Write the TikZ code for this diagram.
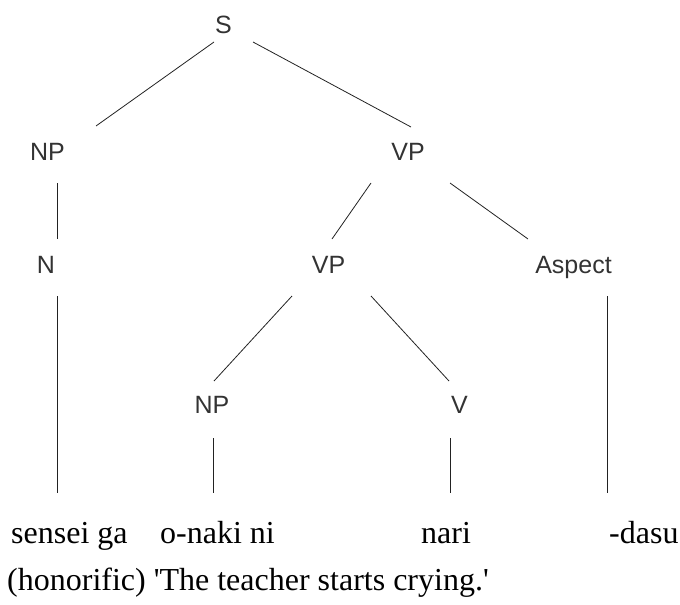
\documentclass[tikz,border=0pt]{standalone}
\usepackage{fontspec}
\setmainfont{Liberation Serif}
\setsansfont{Liberation Sans}
\definecolor{labelgray}{HTML}{333333}
\definecolor{linegray}{HTML}{222222}
\begin{document}
\begin{tikzpicture}[x=1pt,y=-1pt,
  cat/.style={anchor=base,inner sep=0pt,text=labelgray,font=\sffamily\fontsize{25}{30}\selectfont},
  word/.style={anchor=base west,inner sep=0pt,text=black,font=\rmfamily\fontsize{32}{38}\selectfont},
  branch/.style={draw=linegray,line width=0.8pt}]
\useasboundingbox (0,0) rectangle (680,605);
% category labels
\node[cat] (S) at (223.5,33) {S};
\node[cat] (NPa) at (47.5,160) {NP};
\node[cat] (VPa) at (408,160) {VP};
\node[cat] (N) at (46,273) {N};
\node[cat] (VPb) at (328.5,273) {VP};
\node[cat] (Asp) at (573.5,273) {Aspect};
\node[cat] (NPb) at (212,413) {NP};
\node[cat] (V) at (459.5,413) {V};
% words
\node[word] (w1) at (11,543) {sensei ga};
\node[word] (w2) at (160,543) {o-naki ni};
\node[word] (w3) at (421,543) {nari};
\node[word] (w4) at (609,543) {-dasu};
\node[word] (gloss) at (7,590) {(honorific) \textquotesingle The teacher starts crying.\textquotesingle};
% branches
\draw[branch] ([shift={(-9.5,9)}]S.base) -- ([shift={(48.5,-34)}]NPa.base);
\draw[branch] ([shift={(29.5,9)}]S.base) -- ([shift={(3,-33)}]VPa.base);
\draw[branch] ([shift={(9.5,23)}]NPa.base) -- ([shift={(11,-34)}]N.base);
\draw[branch] ([shift={(-37,23)}]VPa.base) -- ([shift={(3.5,-34)}]VPb.base);
\draw[branch] ([shift={(42,23)}]VPa.base) -- ([shift={(-45.5,-34)}]Asp.base);
\draw[branch] ([shift={(11,23)}]N.base) -- ([shift={(46,-50)}]w1.base west);
\draw[branch] ([shift={(-36.5,23)}]VPb.base) -- ([shift={(2,-32)}]NPb.base);
\draw[branch] ([shift={(42.5,23)}]VPb.base) -- ([shift={(-10.5,-32)}]V.base);
\draw[branch] ([shift={(33.5,23)}]Asp.base) -- ([shift={(-2,-50)}]w4.base west);
\draw[branch] ([shift={(1,25)}]NPb.base) -- ([shift={(53,-50)}]w2.base west);
\draw[branch] ([shift={(-9.5,25)}]V.base) -- ([shift={(29,-50)}]w3.base west);
\end{tikzpicture}
\end{document}
